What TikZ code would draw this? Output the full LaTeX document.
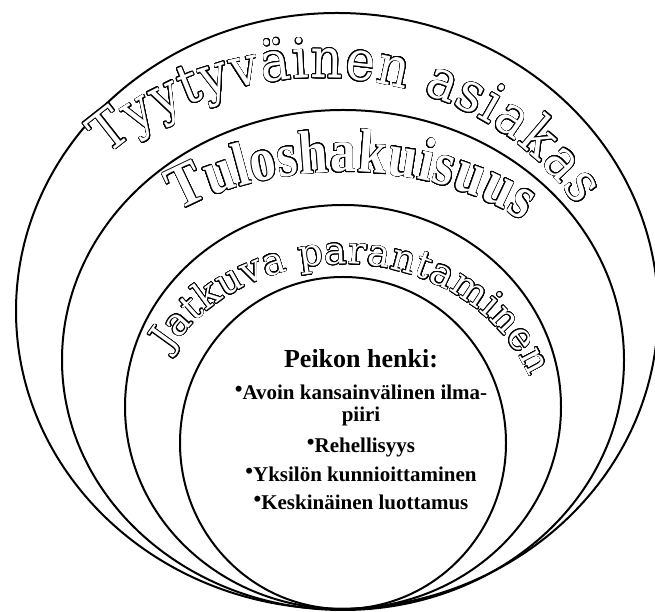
\documentclass[tikz,border=0pt]{standalone}
\usepackage{fontspec}
\setmainfont{Liberation Serif}
\newfontfamily\dvs{DejaVu Serif}
\usepackage{graphicx}
\usepackage{contour}
\contourlength{0.7pt}
\contournumber{32}
\usetikzlibrary{decorations.text,shapes.geometric}
\newcommand\outl[1]{\textcolor{white}{\contour{black}{#1}}}
\newcommand\chA[1]{{\dvs\fontsize{50}{50}\selectfont\scalebox{1}[1.1]{\outl{#1}}}}
\newcommand\chB[1]{{\bfseries\fontsize{56}{56}\selectfont\scalebox{0.92}[1.1]{\outl{#1}}}}
\newcommand\chC[1]{{\dvs\fontsize{38}{38}\selectfont\outl{#1}}}
\newcommand\bul{{\fontsize{22}{22}\selectfont\raisebox{3pt}{•}}}
\begin{document}
\begin{tikzpicture}[x=1pt,y=1pt,
  ring/.style={draw, ellipse, line width=2pt, inner sep=0pt},
  title/.style={font=\bfseries\fontsize{26}{26}\selectfont, anchor=base, inner sep=0pt},
  item/.style={font=\bfseries\fontsize{21}{21}\selectfont, anchor=base, inner sep=0pt}]
\useasboundingbox (0,0) rectangle (655,612);
\node[ring, minimum width=642pt, minimum height=596pt] (e1) at (337,301) {};
\node[ring, minimum width=562pt, minimum height=500pt] (e2) at (343,252) {};
\node[ring, minimum width=436pt, minimum height=404pt] (e3) at (343,205) {};
\node[ring, minimum width=326pt, minimum height=332pt] (e4) at (343,169) {};
\coordinate (c1) at (320,269);
\coordinate (c2) at (343,280);
\coordinate (c3) at (343,172);
\path[decorate, decoration={text effects along path, text={Tyytyväinen asiakas},
  text effects/.cd, text along path, fit text to path, character command=\chA}]
  ([shift={(135:300 and 265)}]c1) arc[start angle=135, end angle=31, x radius=300, y radius=265];
\path[decorate, decoration={text effects along path, text={Tuloshakuisuus},
  text effects/.cd, text along path, fit text to path, character command=\chB}]
  ([shift={(131:250 and 160)}]c2) arc[start angle=131, end angle=44, x radius=250, y radius=160];
\path[decorate, decoration={text effects along path, text={Jatkuva parantaminen},
  text effects/.cd, text along path, fit text to path, character command=\chC}]
  ([shift={(150:200 and 176)}]c3) arc[start angle=150, end angle=21, x radius=200, y radius=176];
\node[title] (t0) at (361,244) {Peikon henki:};
\node[item] (t1) at (361,212) {\bul Avoin kansainvälinen ilma-};
\node[item] (t2) at (361,190) {piiri};
\node[item] (t3) at (361,159) {\bul Rehellisyys};
\node[item] (t4) at (361,130) {\bul Yksilön kunnioittaminen};
\node[item] (t5) at (361,102) {\bul Keskinäinen luottamus};
\end{tikzpicture}
\end{document}
